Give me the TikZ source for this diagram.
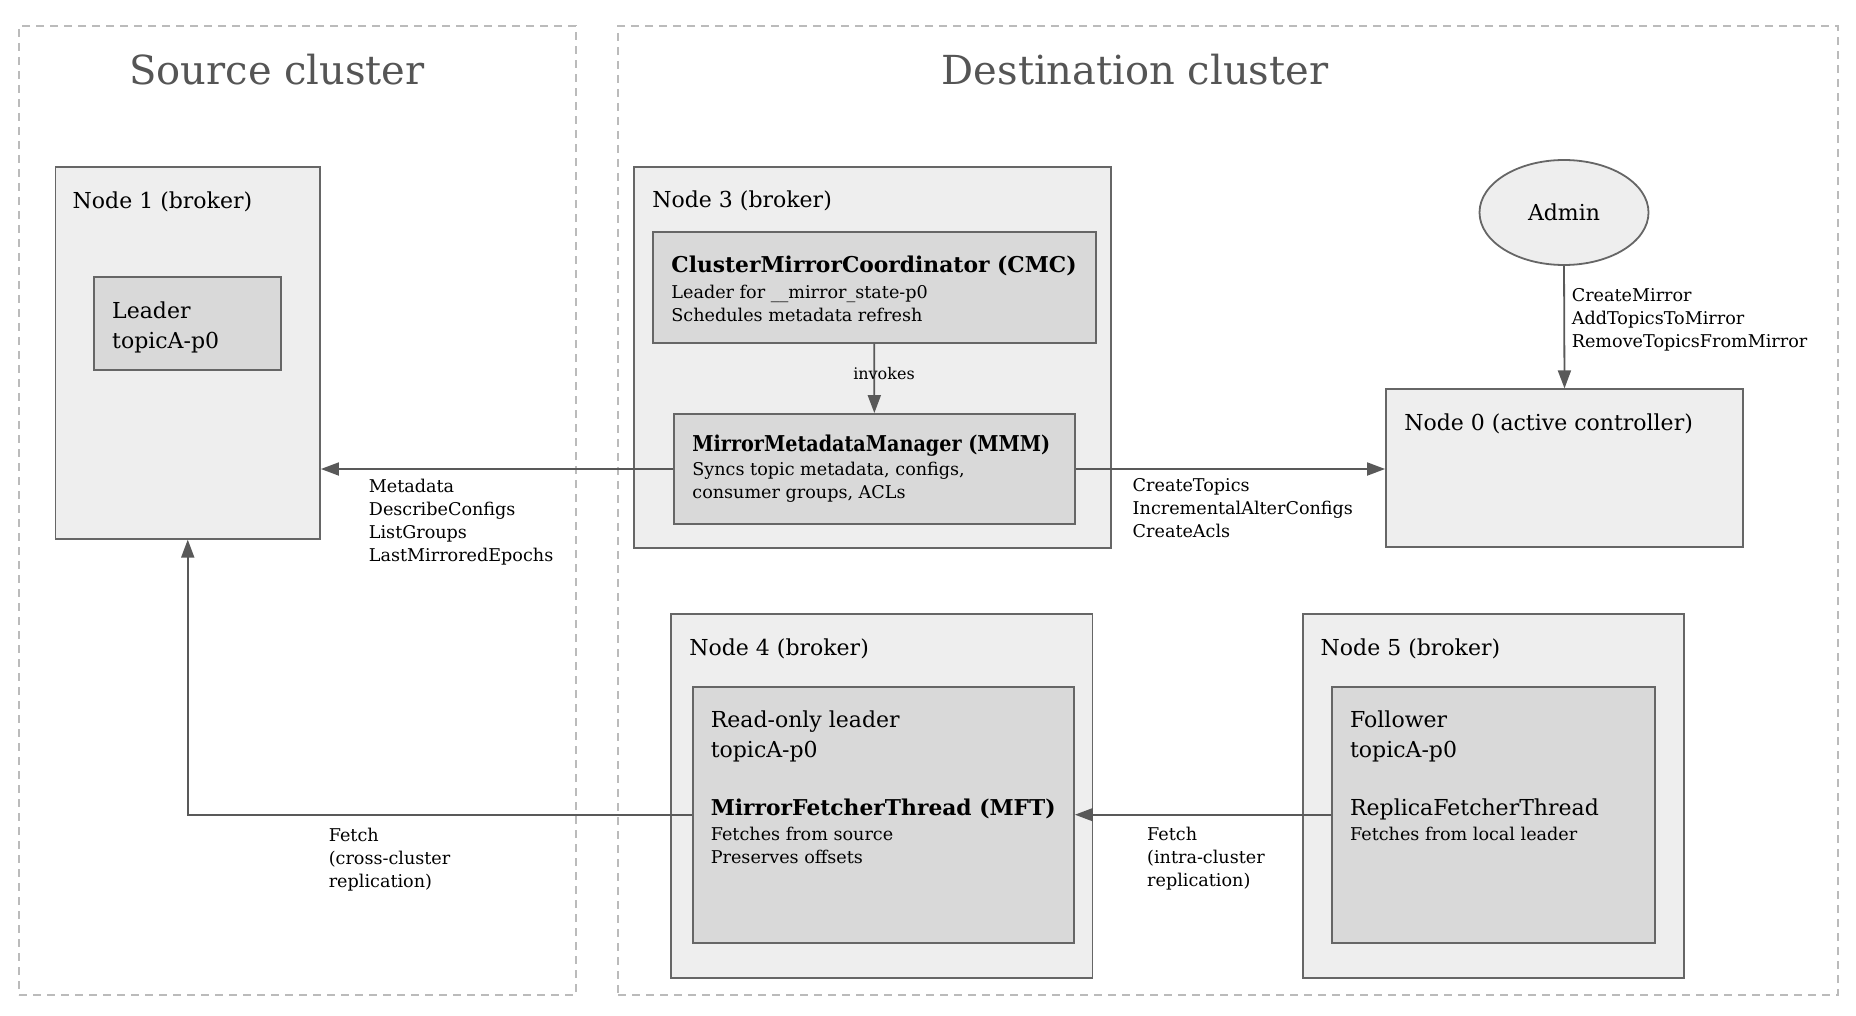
\documentclass[tikz,border=0pt]{standalone}
\usepackage{fontspec}
\setmainfont{DejaVu Serif}
\usepackage{graphicx}
\usepackage{tikz}
\usetikzlibrary{arrows.meta,shapes.geometric}

\definecolor{clusterline}{HTML}{BBBBBB}
\definecolor{boxline}{HTML}{666666}
\definecolor{brokerfill}{HTML}{EEEEEE}
\definecolor{partfill}{HTML}{D9D9D9}
\definecolor{arrowgray}{HTML}{595959}
\definecolor{titlegray}{HTML}{555555}

\begin{document}
\begin{tikzpicture}[x=0.5pt,y=-0.5pt,
  cluster/.style={draw=clusterline,dash pattern=on 4pt off 3pt,line width=0.7pt,inner sep=0pt},
  broker/.style={draw=boxline,fill=brokerfill,line width=0.9pt,inner sep=0pt},
  part/.style={draw=boxline,fill=partfill,line width=0.9pt,inner sep=0pt},
  ctitle/.style={font=\fontsize{20}{24}\selectfont,text=titlegray,anchor=base,inner sep=0pt},
  ntitle/.style={font=\fontsize{11}{15}\selectfont,anchor=base west,inner sep=0pt},
  bigtxt/.style={font=\fontsize{11}{15}\selectfont,align=left,anchor=north west,inner sep=0pt},
  boldtxt/.style={font=\fontsize{10.9}{15}\selectfont\bfseries,anchor=base west,inner sep=0pt},
  smalltxt/.style={font=\fontsize{8.8}{11.5}\selectfont,align=left,anchor=north west,inner sep=0pt},
  arr/.style={-{Triangle[length=9pt,width=6.5pt]},draw=arrowgray,line width=0.9pt},
]
  \useasboundingbox (0,0) rectangle (1856,1016);

  \node[cluster,minimum width=278.5pt,minimum height=484.5pt] (srccl) at (297.5,510.5) {};
  \node[cluster,minimum width=610pt,minimum height=484.5pt]   (dstcl) at (1228,510.5) {};
  \node[ctitle] (srctitle) at (277,85)  {Source cluster};
  \node[ctitle] (dsttitle) at (1135,85) {Destination cluster};

  \node[broker,minimum width=132.25pt,minimum height=185.85pt] (node1) at (187.75,352.85) {};
  \node[ntitle] (node1title) at (72.3,208.5) {Node 1 (broker)};
  \node[part,minimum width=93.8pt,minimum height=46.6pt] (leader) at (187.4,323.4) {};
  \node[bigtxt] (leadertxt) at (111.8,301.3) {Leader\\topicA-p0};

  \node[broker,minimum width=238.5pt,minimum height=190.5pt] (node3) at (872.5,357.5) {};
  \node[ntitle] (node3title) at (652,208) {Node 3 (broker)};
  \node[part,minimum width=221.5pt,minimum height=55.35pt] (cmc) at (874.2,287.35) {};
  \node[boldtxt] (cmctitle) at (671,272.7) {ClusterMirrorCoordinator (CMC)};
  \node[smalltxt] (cmctxt) at (671,284.3) {Leader for \_\_mirror\_state-p0\\Schedules metadata refresh};
  \node[part,minimum width=200.35pt,minimum height=55pt] (mmm) at (874.35,469) {};
  \node[boldtxt] (mmmtitle) at (692,451.7) {\scalebox{0.88}[1]{MirrorMetadataManager (MMM)}};
  \node[smalltxt] (mmmtxt) at (692,461.3) {Syncs topic metadata, configs,\\consumer groups, ACLs};

  \node[ellipse,broker,minimum width=84.5pt,minimum height=52.5pt,font=\fontsize{11}{15}\selectfont] (admin) at (1564,212.5) {Admin};
  \node[broker,minimum width=178.5pt,minimum height=78.7pt] (node0) at (1564.5,468) {};
  \node[ntitle] (node0title) at (1404,430) {Node 0 (active controller)};

  \node[broker,minimum width=210.7pt,minimum height=181.7pt] (node4) at (881.7,796) {};
  \node[ntitle] (node4title) at (689,655) {Node 4 (broker)};
  \node[part,minimum width=190.7pt,minimum height=128pt] (mft) at (883.3,814.7) {};
  \node[bigtxt] (mfttxt) at (710.4,710) {Read-only leader\\topicA-p0};
  \node[boldtxt] (mfttitle) at (710.4,815) {MirrorFetcherThread (MFT)};
  \node[smalltxt] (mftsub) at (710.4,826.3) {Fetches from source\\Preserves offsets};

  \node[broker,minimum width=190.35pt,minimum height=181.7pt] (node5) at (1493.35,796) {};
  \node[ntitle] (node5title) at (1320.3,655) {Node 5 (broker)};
  \node[part,minimum width=161.75pt,minimum height=128pt] (fol) at (1493.55,814.7) {};
  \node[bigtxt] (foltxt) at (1349.7,710) {Follower\\topicA-p0};
  \node[ntitle] (foltitle) at (1349.7,815) {ReplicaFetcherThread};
  \node[smalltxt] (folsub) at (1349.7,826.3) {Fetches from local leader};

  \draw[arr] (cmc.south) -- (mmm.north);
  \node[font=\fontsize{8}{10}\selectfont,anchor=base,inner sep=0pt] (invokes) at (884,379) {invokes};

  \draw[arr] (admin.south) -- (node0.north);
  \node[smalltxt] (adminops) at (1571.4,288) {CreateMirror\\AddTopicsToMirror\\RemoveTopicsFromMirror};

  \draw[arr] (mmm.west) -- (mmm.west -| node1.east);
  \node[smalltxt] (srcops) at (368.5,478.3) {Metadata\\DescribeConfigs\\ListGroups\\LastMirroredEpochs};

  \draw[arr] (mmm.east) -- (mmm.east -| node0.west);
  \node[smalltxt] (ctrlops) at (1132.3,478) {CreateTopics\\IncrementalAlterConfigs\\CreateAcls};

  \draw[arr] (fol.west) -- (mft.east);
  \node[smalltxt] (intrafetch) at (1146.8,826.3) {Fetch\\(intra-cluster\\replication)};

  \draw[arr] (mft.west) -| (node1.south);
  \node[smalltxt] (crossfetch) at (328.4,828) {Fetch\\(cross-cluster\\replication)};
\end{tikzpicture}
\end{document}
